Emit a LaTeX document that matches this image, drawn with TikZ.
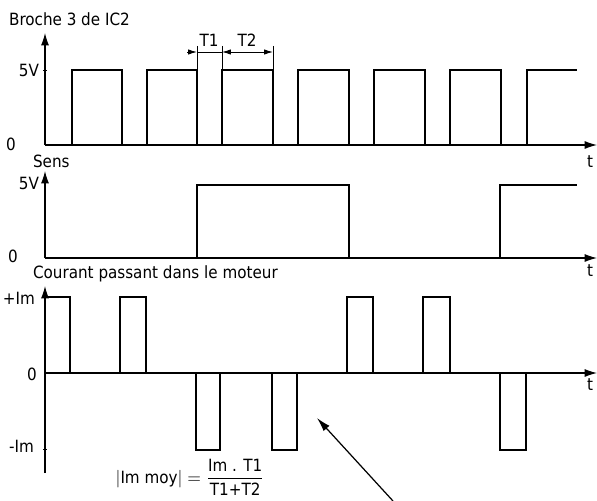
\documentclass[tikz,border=0pt]{standalone}
\usepackage{amsmath}
\usepackage{fontspec}
\setmainfont{DejaVu Sans Condensed}
\usepackage{tikz}
\usetikzlibrary{positioning, arrows.meta}

\begin{document}
\begin{tikzpicture}[x=0.02cm, y=-0.02cm,
        axis/.style={line width=0.6pt, -{Latex[length=7pt, width=4.5pt]}},
        wave/.style={line width=1.3pt},
        dim/.style={line width=0.5pt},
        lbl/.style={font=\fontsize{9.6}{11}\selectfont, inner sep=1pt}]
        \useasboundingbox (0,0) rectangle (597,500);

        % Axes
        \coordinate (o_top) at (45,145);
        \coordinate (y_top) at (45,33);
        \coordinate (t_top) at (597,145);
        \coordinate (o_sens) at (45,258);
        \coordinate (y_sens) at (45,171);
        \coordinate (t_sens) at (597,258);
        \coordinate (b_cur) at (45,473);
        \coordinate (y_cur) at (45,286);
        \coordinate (o_cur) at (45,373);
        \coordinate (t_cur) at (597,373);

        \draw[axis] (o_top) -- (y_top);
        \draw[axis] (o_top) -- (t_top);
        \draw[axis] (o_sens) -- (y_sens);
        \draw[axis] (o_sens) -- (t_sens);
        \draw[axis] (b_cur) -- (y_cur);
        \draw[axis] (o_cur) -- (t_cur);

        % Titles
        \node (broche) [lbl, anchor=west] at (7,19) {Broche 3 de IC2};
        \node (sens) [lbl, anchor=west] at (31,161) {Sens};
        \node (courant) [lbl, anchor=west] at (31,274) {Courant passant dans le moteur};

        % Levels
        \node (v5_top) [lbl, anchor=east] at (41,70) {5V};
        \node (z_top) [lbl] at (11,144) {0};
        \node (v5_sens) [lbl, anchor=east] at (41,183) {5V};
        \node (z_sens) [lbl] at (13,256) {0};
        \node (pim) [lbl, anchor=east] at (37,298) {+Im};
        \node (z_cur) [lbl] at (32,374) {0};
        \node (mim) [lbl, anchor=east] at (36,446) {-Im};
        \draw[dim] (43,70) -- (47,70);
        \draw[dim] (43,449) -- (47,449);

        \node (t1_lbl) [lbl] at (590,162) {t};
        \node (t2_lbl) [lbl] at (590,271) {t};
        \node (t3_lbl) [lbl] at (590,385) {t};

        % Waveforms
        \draw[wave] (45,145) -- (72,145) -- (72,70) -- (122,70) -- (122,145) -- (147,145) -- (147,70) -- (197,70) -- (197,145) -- (222,145) -- (222,70) -- (273,70) -- (273,145) -- (298,145) -- (298,70) -- (349,70) -- (349,145) -- (374,145) -- (374,70) -- (425,70) -- (425,145) -- (450,145) -- (450,70) -- (501,70) -- (501,145) -- (527,145) -- (527,70) -- (577,70);

        \draw[wave] (45,258) -- (197,258) -- (197,185) -- (349,185) -- (349,258) -- (500,258) -- (500,185) -- (577,185);

        \draw[wave] (45,297) -- (70,297) -- (70,373) -- (120,373) -- (120,297) -- (146,297) -- (146,373) -- (196,373) -- (196,450) -- (220,450) -- (220,373) -- (272,373) -- (272,450) -- (297,450) -- (297,373) -- (347,373) -- (347,297) -- (373,297) -- (373,373) -- (423,373) -- (423,297) -- (450,297) -- (450,373) -- (500,373) -- (500,450) -- (526,450) -- (526,373) -- (577,373);

        % T1 and T2
        \coordinate (d0) at (187,52);
        \coordinate (d1) at (197,52);
        \coordinate (d2) at (222,52);
        \coordinate (d3) at (273,52);
        \draw[dim] (197,46) -- (197,70);
        \draw[dim] (222,46) -- (222,70);
        \draw[dim] (273,46) -- (273,70);
        \draw[dim, -{Latex[length=5pt, width=3pt]}] (d0) -- (d1);
        \draw[dim] (d1) -- (d2);
        \draw[dim, {Latex[length=5pt, width=3pt]}-{Latex[length=5pt, width=3pt]}] (d2) -- (d3);
        \node (T1) [lbl] at (209,40) {T1};
        \node (T2) [lbl] at (247,40) {T2};

        % Mean current
        \node (imoy) [lbl] at (190,477) {$\left|\text{Im moy}\right| = \dfrac{\text{Im . T1}}{\text{T1+T2}}$};

        % Pointer
        \coordinate (ptr_start) at (393,501);
        \coordinate (ptr_tip) at (317,418);
        \draw[line width=0.7pt, -{Latex[length=8pt, width=4.5pt]}] (ptr_start) -- (ptr_tip);

    \end{tikzpicture}
\end{document}
